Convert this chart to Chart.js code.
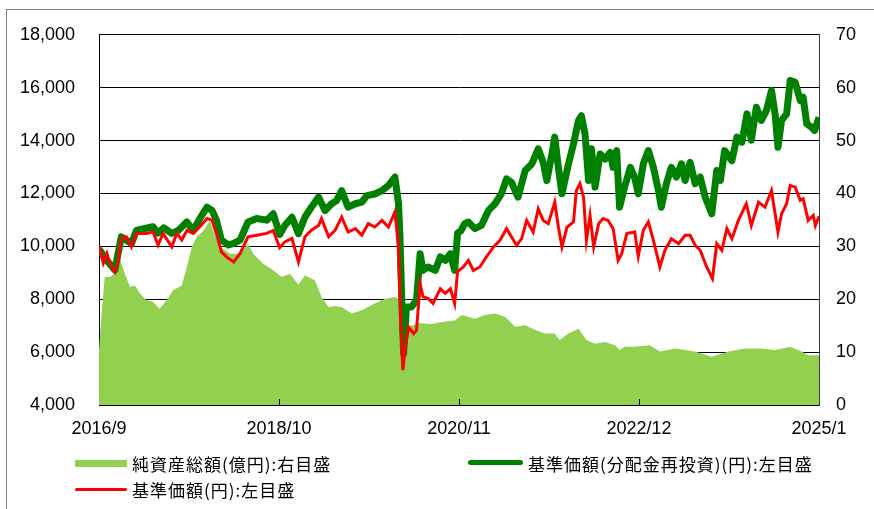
<!DOCTYPE html>
<html>
<head>
<meta charset="utf-8">
<script src="https://cdn.jsdelivr.net/npm/chart.js@4.4.1/dist/chart.umd.min.js"></script>
<style>
  html, body { margin: 0; padding: 0; background: #fff; }
  #wrap { position: relative; width: 874px; height: 509px; overflow: hidden; }
  #frame { position: absolute; left: 6px; top: 9px; width: 900px; height: 600px; border: 1px solid #7f7f7f; }
  #chart { position: absolute; left: 0; top: 0; }
  .leg { position: absolute; font-family: "Noto Sans CJK JP", sans-serif; font-size: 17px; letter-spacing: 1px; color: #000; white-space: nowrap; line-height: 20px; }
  .sw { position: absolute; }
</style>
</head>
<body>
<div id="wrap">
  <div id="frame"></div>
  <canvas id="chart" width="874" height="509"></canvas>
  <div id="legend"></div>
</div>
<script>
// x = months since 2016/9
const xTickLabels = ["2016/9", "2018/10", "2020/11", "2022/12", "2025/1"];

// 基準価額(円)
const navX = [0,0.6,1.1,1.5,2.2,2.6,3.1,3.8,4.5,5.2,6.6,7.5,8.2,8.9,10.1,10.8,11.5,12.2,13.1,14,15,15.7,16.3,17,17.7,18.7,19.6,20.7,21.9,23.3,24.2,25.1,25.8,26.8,27.7,28.6,29.5,30.5,30.9,31.9,32.8,33.7,34.6,35.6,36.5,37.4,38.3,39.3,40.2,41.1,41.6,41.9,42.2,42.5,43,43.7,44.1,44.6,45,45.7,46.4,47.4,48.1,48.8,49.4,49.8,50.6,51.3,52,52.9,53.8,54.8,55.7,56.6,57.3,58,58.7,59.4,60.3,61,61.7,62.4,63.3,63.8,64.3,65,65.9,66.3,66.8,67.3,67.7,68.2,68.7,69.4,70,70.7,71.4,72.1,72.6,73.3,74.4,74.9,75.6,76.3,77,77.9,78.6,79.5,80.5,81.4,82.1,82.8,83.5,84.4,85.2,85.8,86.5,87.2,87.9,88.8,89.9,90.6,91.6,92.5,93.4,94.3,94.8,95.5,96,96.7,97.4,97.8,98.5,99.2,99.5,100];
const navY = [10000,9360,9730,9360,9030,9360,10300,10360,9980,10490,10490,10550,10050,10490,9980,10490,10240,10600,10490,10740,11050,10990,10490,9790,9600,9410,9730,10360,10420,10490,10600,9950,10170,10300,9410,10360,10610,10790,11050,10360,10610,11110,10540,10670,10420,10860,10730,10980,10730,11300,9970,7210,5320,6080,6950,6700,6830,8590,8090,8030,7840,8400,8220,8400,7840,9050,9220,9470,9090,9220,9600,9980,10230,10670,10350,10040,10290,10980,10540,11420,10980,10860,11670,10730,9980,10730,10920,12110,12370,11860,10230,11170,9980,10860,11050,10980,10670,9470,9720,10480,10540,9620,10610,10920,10230,9220,9850,10290,10100,10420,10420,10040,9850,9220,8780,10100,9850,10670,10290,10980,11610,10790,11670,11480,12110,10540,11230,11610,12300,12240,11740,11800,10980,11170,10790,11140];

// 基準価額(分配金再投資)(円)
const reinvX = [0,1,2.2,3.1,4.5,5.2,7.5,8.2,9,10.1,11,12.2,13.1,14,15,15.7,16.3,17,18,18.7,19.6,20.7,21.9,23.3,24.2,25.1,25.8,26.8,27.7,28.6,29.5,30.5,31.4,32.3,33,33.7,34.6,35.6,36.5,37.2,38.3,39.3,40.2,41.1,41.6,41.8,42,42.3,42.7,43.4,44.1,44.6,45,45.7,46.7,47.4,48.1,48.8,49.4,49.8,50.3,50.8,51.3,52.2,53.1,54.1,55,55.9,56.6,57.3,58.2,59.2,60.1,61,61.7,62.2,62.9,63.3,63.8,64.3,65.2,65.9,66.6,67,67.5,68,68.4,68.9,69.6,70.3,71,71.4,71.9,72.3,73,73.8,74.4,74.9,75.6,76.3,77,77.7,78.1,78.8,79.5,80.2,80.9,81.4,82.1,82.8,83.5,84.2,85.1,85.8,86.3,86.9,87.9,88.6,89.3,90,90.6,91.3,92,92.7,93.4,93.9,94.3,94.8,95.5,96,96.7,97.4,97.8,98.3,99,99.4,100];
const reinvY = [9900,9500,9100,10360,10100,10600,10740,10500,10700,10490,10600,10920,10600,11050,11480,11360,10990,10240,10050,10110,10240,10920,11050,10990,11230,10450,10790,11100,10480,11100,11480,11860,11350,11610,11730,12110,11480,11610,11670,11920,11980,12110,12300,12620,11610,10350,8460,5950,7710,7710,7960,9720,9090,9220,9090,9600,9470,9720,9090,10500,10600,10860,10920,10670,10790,11360,11610,11990,12550,12420,11860,12870,13110,13690,13170,12490,13490,14130,12990,11990,13110,13870,14760,14940,14260,12490,13690,12240,13490,13300,13550,12990,13620,11480,12240,12990,12600,11990,13120,13620,12990,12110,11480,12370,12990,12620,13120,12490,13180,12370,12620,11860,11230,12870,12490,13620,13240,14130,13940,15010,14010,15260,14760,15140,15890,15010,13750,14760,15010,16270,16200,15510,15640,14630,14500,14380,14880];

// 純資産総額(億円)
const assetsX = [0,0.4,0.8,1.5,2.2,2.9,3.6,4.3,5,5.7,6.6,7.5,8.4,9.4,10.3,11.5,12.2,12.9,13.6,14.5,15.4,15.9,16.8,18.2,19.6,20.7,21.4,22.8,24.2,25.4,26.5,27.7,28.6,30,30.9,31.9,32.8,33.7,35.1,36.5,38.3,39.7,41.1,41.5,42,43,44.4,46.2,47.6,49.4,50.4,52.2,53.6,55,56.4,57.8,59.2,60.6,62,63.3,64,65.2,66.6,67.7,68.9,70.3,71.7,72.3,73,74.4,76.5,77.9,80,82.8,85.1,87.4,89.7,92,93.9,96,97.6,98.5,100];
const assetsY = [10.4,18,24.2,24.2,24.8,27.7,24.8,22.3,22.6,21.1,19.8,19.5,18.2,19.8,21.7,22.6,26.1,29.9,31.8,32.9,34.9,32.9,29.9,28.6,28.6,30.5,28.6,26.7,25.5,24.2,24.8,22.8,24.5,23.6,20.4,18.5,18.7,18.5,17.3,17.9,19.2,20.1,20.4,20.1,15.5,14.8,15.5,15.3,15.7,16,17,16.3,17,17.3,16.7,14.8,15.1,14.2,13.5,13.5,12.3,13.5,14.4,12.3,11.6,11.9,11.3,10.4,11,11,11.3,10.1,10.7,10.1,9.1,10.1,10.7,10.7,10.4,11,10.1,9.4,9.4];

const pts = (xs, ys) => xs.map((x, i) => ({ x: x, y: ys[i] }));

// small inward tick marks on the bottom axis
const innerTicks = {
  id: 'innerTicks',
  afterDatasetsDraw(chart) {
    const x = chart.scales.x, ctx = chart.ctx, b = chart.chartArea.bottom;
    ctx.save();
    ctx.strokeStyle = '#000';
    ctx.lineWidth = 1;
    x.ticks.forEach(t => {
      if (t.value <= x.min || t.value >= x.max) return;
      const px = Math.round(x.getPixelForValue(t.value)) + 0.5;
      ctx.beginPath();
      ctx.moveTo(px, b);
      ctx.lineTo(px, b - 6);
      ctx.stroke();
    });
    ctx.restore();
  }
};

const tickFont = { family: '"Liberation Sans", Arial, sans-serif', size: 18 };

const chart = new Chart(document.getElementById('chart'), {
  type: 'line',
  data: {
    datasets: [
      {
        label: '純資産総額(億円):右目盛',
        data: pts(assetsX, assetsY),
        yAxisID: 'y1',
        backgroundColor: '#92D050',
        borderWidth: 0,
        fill: 'start',
        pointRadius: 0,
        order: 3
      },
      {
        label: '基準価額(分配金再投資)(円):左目盛',
        data: pts(reinvX, reinvY),
        yAxisID: 'y',
        borderColor: '#008000',
        borderWidth: 7,
        borderJoinStyle: 'round',
        fill: false,
        pointRadius: 0,
        order: 2
      },
      {
        label: '基準価額(円):左目盛',
        data: pts(navX, navY),
        yAxisID: 'y',
        borderColor: '#FF0000',
        borderWidth: 3,
        fill: false,
        pointRadius: 0,
        order: 1
      }
    ]
  },
  options: {
    responsive: false,
    animation: false,
    layout: { padding: { left: 0, right: 0, top: 34, bottom: 74 } },
    plugins: { legend: { display: false }, tooltip: { enabled: false } },
    elements: { line: { tension: 0 } },
    scales: {
      x: {
        type: 'linear',
        min: 0,
        max: 100,
        grid: { drawOnChartArea: false, drawTicks: false },
        border: { color: '#000', width: 1 },
        ticks: {
          stepSize: 25,
          padding: 13,
          color: '#000',
          font: tickFont,
          maxRotation: 0,
          autoSkip: false,
          callback: (v) => xTickLabels[v / 25]
        },
        afterFit: (s) => { s.height = 30; }
      },
      y: {
        position: 'left',
        min: 4000,
        max: 18000,
        grid: { color: '#000', lineWidth: 1, drawTicks: false },
        border: { color: '#000', width: 1 },
        ticks: {
          stepSize: 2000,
          padding: 24,
          color: '#000',
          font: tickFont,
          callback: (v) => v.toLocaleString('en-US')
        },
        afterFit: (s) => { s.width = 99; }
      },
      y1: {
        position: 'right',
        min: 0,
        max: 70,
        grid: { drawOnChartArea: false, drawTicks: false },
        border: { color: '#404040', width: 1 },
        ticks: {
          stepSize: 10,
          padding: 17,
          color: '#000',
          font: tickFont
        },
        afterFit: (s) => { s.width = 55; }
      }
    }
  },
  plugins: [innerTicks]
});

// legend laid out like the original: two items on the first row, one on the second
const legendPos = [
  { sw: [75, 460, 52, 7], text: [132, 454] },
  { sw: [468, 460, 55, 5], text: [528, 454] },
  { sw: [75, 488, 52, 3], text: [132, 480] }
];
const legend = document.getElementById('legend');
chart.data.datasets.forEach((ds, i) => {
  const p = legendPos[i];
  const sw = document.createElement('div');
  sw.className = 'sw';
  sw.style.left = p.sw[0] + 'px';
  sw.style.top = p.sw[1] + 'px';
  sw.style.width = p.sw[2] + 'px';
  sw.style.height = p.sw[3] + 'px';
  sw.style.background = ds.fill ? ds.backgroundColor : ds.borderColor;
  if (!ds.fill) sw.style.borderRadius = '3px';
  legend.appendChild(sw);
  const t = document.createElement('div');
  t.className = 'leg';
  t.style.left = p.text[0] + 'px';
  t.style.top = p.text[1] + 'px';
  t.textContent = ds.label;
  legend.appendChild(t);
});
</script>
</body>
</html>
